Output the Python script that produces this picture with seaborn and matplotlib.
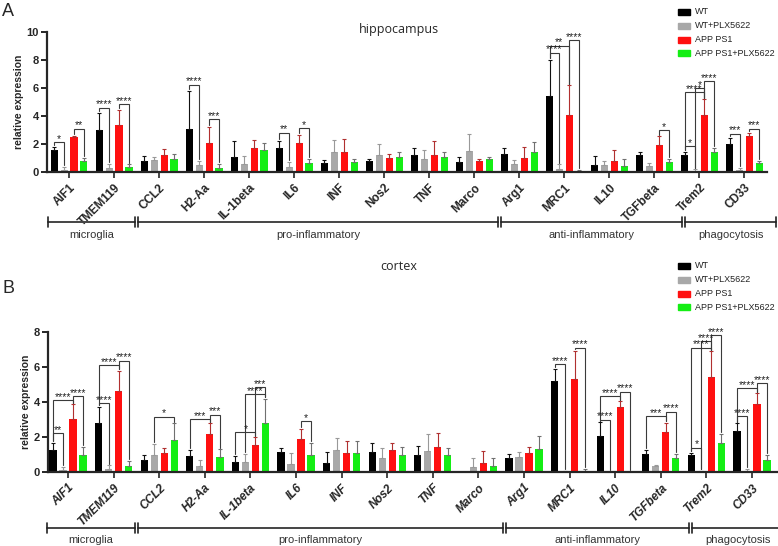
import numpy as np
import pandas as pd
import matplotlib
matplotlib.use('Agg')
import matplotlib.pyplot as plt
import matplotlib.transforms as mtransforms
from matplotlib.patches import Rectangle
import seaborn as sns

# genes and treatment groups
genes = ['AIF1', 'TMEM119', 'CCL2', 'H2-Aa', 'IL-1beta', 'IL6', 'INF', 'Nos2',
         'TNF', 'Marco', 'Arg1', 'MRC1', 'IL10', 'TGFbeta', 'Trem2', 'CD33']
groups = ['WT', 'WT+PLX5622', 'APP PS1', 'APP PS1+PLX5622']
colors = ['#000000', '#a8a8a8', '#ff1010', '#14ee14']
err_colors = ['#111111', '#999999', '#b03030', '#707070']

# hippocampus: means and upper SD
hip_wt = [1.55, 3.0, 0.8, 3.1, 1.1, 1.75, 0.65, 0.8, 1.25, 0.7, 1.3, 5.45, 0.5, 1.25, 1.2, 2.0]
hip_wt_sd = [0.25, 1.25, 0.35, 2.7, 1.1, 0.5, 0.2, 0.15, 0.5, 0.4, 0.45, 2.6, 0.65, 0.2, 0.25, 0.45]
hip_plx = [0.15, 0.3, 0.85, 0.5, 0.55, 0.35, 1.45, 1.2, 0.95, 1.5, 0.6, 0.25, 0.5, 0.4, 0.1, 0.15]
hip_plx_sd = [0.2, 0.3, 0.2, 0.3, 0.6, 0.4, 0.85, 0.8, 0.6, 1.25, 0.25, 0.3, 0.3, 0.25, 0.1, 0.15]
hip_app = [2.5, 3.35, 1.2, 2.1, 1.7, 2.05, 1.4, 1.0, 1.2, 0.8, 1.0, 4.05, 0.8, 1.95, 4.05, 2.55]
hip_app_sd = [0.1, 1.1, 0.45, 1.15, 0.6, 0.6, 0.95, 0.3, 1.0, 0.15, 0.8, 2.15, 0.8, 0.6, 1.15, 0.25]
hip_apx = [0.8, 0.35, 0.95, 0.3, 1.6, 0.65, 0.7, 1.1, 1.1, 0.95, 1.4, 0.1, 0.4, 0.75, 1.4, 0.65]
hip_apx_sd = [0.2, 0.2, 0.35, 0.3, 0.45, 0.3, 0.25, 0.35, 0.3, 0.15, 0.75, 0.05, 0.55, 0.2, 0.35, 0.15]

# cortex: means and upper SD
ctx_wt = [1.3, 2.8, 0.7, 0.95, 0.6, 1.15, 0.55, 1.15, 0.97, 0.0, 0.82, 5.2, 2.1, 1.05, 0.97, 2.35]
ctx_wt_sd = [0.4, 0.95, 0.3, 0.35, 0.35, 0.25, 0.6, 0.5, 0.55, 0.0, 0.25, 0.7, 0.75, 0.25, 0.15, 0.45]
ctx_plx = [0.15, 0.2, 0.97, 0.38, 0.6, 0.5, 1.25, 0.82, 1.2, 0.3, 0.87, 0.05, 0.05, 0.35, 0.05, 0.1]
ctx_plx_sd = [0.15, 0.2, 0.65, 0.3, 0.45, 0.6, 0.7, 0.55, 1.0, 0.5, 0.3, 0.05, 0.0, 0.05, 0.05, 0.1]
ctx_app = [3.03, 4.65, 1.1, 2.2, 1.55, 1.88, 1.12, 1.3, 1.45, 0.55, 1.12, 5.33, 3.75, 2.32, 5.47, 3.92]
ctx_app_sd = [0.85, 1.15, 0.3, 0.6, 0.45, 0.6, 0.65, 0.4, 0.8, 0.65, 0.35, 1.6, 0.3, 0.5, 1.45, 0.6]
ctx_apx = [1.0, 0.35, 1.85, 0.87, 2.83, 0.97, 1.12, 0.97, 0.97, 0.36, 1.35, 0.1, 0.02, 0.82, 1.65, 0.7]
ctx_apx_sd = [0.45, 0.3, 0.95, 0.45, 1.35, 0.7, 0.65, 0.45, 0.4, 0.45, 0.75, 0.1, 0.0, 0.25, 0.55, 0.3]

# significance brackets: (gene index, group a, group b, height, label)
hip_sig = [
    (0, 0, 1, 2.15, '*'), (0, 2, 3, 3.1, '**'),
    (1, 0, 1, 4.6, '****'), (1, 2, 3, 4.85, '****'),
    (3, 0, 1, 6.25, '****'), (3, 2, 3, 3.8, '***'),
    (5, 0, 1, 2.8, '**'), (5, 2, 3, 3.15, '*'),
    (11, 0, 1, 8.55, '****'), (11, 0, 2, 9.05, '**'), (11, 2, 3, 9.45, '****'),
    (13, 2, 3, 3.0, '*'),
    (14, 0, 1, 1.85, '*'), (14, 0, 2, 5.7, '****'), (14, 1, 2, 6.0, '*'), (14, 2, 3, 6.5, '****'),
    (15, 0, 1, 2.75, '***'), (15, 2, 3, 3.1, '***'),
]
ctx_sig = [
    (0, 0, 1, 2.25, '**'), (0, 0, 2, 4.13, '****'), (0, 2, 3, 4.36, '****'),
    (1, 0, 1, 3.94, '****'), (1, 0, 2, 6.13, '****'), (1, 2, 3, 6.38, '****'),
    (2, 1, 3, 3.18, '*'),
    (3, 0, 2, 3.05, '***'), (3, 2, 3, 3.3, '***'),
    (4, 0, 2, 2.3, '*'), (4, 1, 3, 4.45, '****'), (4, 2, 3, 4.85, '***'),
    (5, 2, 3, 2.93, '*'),
    (11, 0, 1, 6.19, '****'), (11, 2, 3, 7.13, '****'),
    (12, 0, 1, 3.0, '****'), (12, 0, 2, 4.36, '****'), (12, 2, 3, 4.6, '****'),
    (13, 0, 2, 3.22, '***'), (13, 2, 3, 3.46, '****'),
    (14, 0, 1, 1.41, '*'), (14, 0, 2, 7.13, '****'), (14, 1, 2, 7.5, '****'), (14, 2, 3, 7.85, '****'),
    (15, 0, 1, 3.22, '****'), (15, 0, 2, 4.8, '****'), (15, 2, 3, 5.08, '****'),
]

# gene categories (x spans in category units)
cat_names = ['microglia', 'pro-inflammatory', 'anti-inflammatory', 'phagocytosis']
cat_starts = [-0.47, 1.53, 9.6, 13.68]
cat_ends = [1.46, 9.53, 13.61, 15.7]

sns.set_style('ticks')
plt.rcParams['font.family'] = ['Liberation Sans', 'DejaVu Sans']

fig = plt.figure(figsize=(7.78, 5.46), dpi=100)
W, H = 778.0, 546.0


def fx(px):
    return px / W


def fy(py):
    return 1 - py / H


def make_df(means):
    rows = []
    for g, vals in zip(groups, means):
        for gene, v in zip(genes, vals):
            rows.append({'gene': gene, 'group': g, 'value': v})
    return pd.DataFrame(rows)


def draw_panel(ax, means, sds, sigs, ymax, italic):
    df = make_df(means)
    sns.barplot(data=df, x='gene', y='value', hue='group', order=genes,
                hue_order=groups, palette=colors, saturation=1, width=0.88,
                gap=0.28, errorbar=None, legend=False, ax=ax, linewidth=0)
    # upper error bars
    bar_conts = list(ax.containers)
    for h, cont in enumerate(bar_conts):
        for i, bar in enumerate(cont.patches):
            x = bar.get_x() + bar.get_width() / 2
            y = bar.get_height()
            if sds[h][i] > 0:
                ax.errorbar(x, y, yerr=[[0], [sds[h][i]]], fmt='none',
                            ecolor=err_colors[h], elinewidth=0.8, capsize=1.6,
                            capthick=0.8)
    offs = [-0.33, -0.11, 0.11, 0.33]
    gap = ymax * 0.012
    for gi, a, b, hgt, lab in sigs:
        xa, xb = gi + offs[a], gi + offs[b]
        ya = min(means[a][gi] + sds[a][gi] + gap, hgt)
        yb = min(means[b][gi] + sds[b][gi] + gap, hgt)
        ax.plot([xa, xa, xb, xb], [ya, hgt, hgt, yb], color='#3a3a3a',
                lw=0.8, clip_on=False, solid_joinstyle='miter')
        ax.text((xa + xb) / 2, hgt - ymax * 0.012, lab, ha='center', va='bottom',
                fontsize=7.5, color='#222222', clip_on=False)
    ax.set_ylim(0, ymax)
    ax.set_yticks(np.arange(0, ymax + 0.1, 2))
    ax.set_xlim(-0.49, 15.5)
    sns.despine(ax=ax)
    for s in ['left', 'bottom']:
        ax.spines[s].set_linewidth(1.6)
    ax.tick_params(axis='y', length=4, width=1.4, labelsize=8, pad=2)
    ax.tick_params(axis='x', length=4, width=1.2, pad=3)
    for t in ax.get_yticklabels():
        t.set_fontweight('bold')
    ax.set_xticks(range(len(genes)))
    ax.set_xticklabels(genes, rotation=45, ha='right', va='top',
                       rotation_mode='anchor', fontsize=8.5, fontweight='bold',
                       fontstyle='italic' if italic else 'normal')
    ax.set_xlabel('')
    ax.set_ylabel('relative expression', fontsize=7.5, fontweight='bold', labelpad=2)


def draw_categories(ax, line_y, text_y):
    tr = mtransforms.blended_transform_factory(ax.transData, fig.transFigure)
    tick = 5 / H
    for name, x0, x1 in zip(cat_names, cat_starts, cat_ends):
        ax.plot([x0, x1], [line_y, line_y], color='#444444', lw=1.4,
                transform=tr, clip_on=False)
        for xe in (x0, x1):
            ax.plot([xe, xe], [line_y - tick, line_y + tick], color='#222222',
                    lw=1.2, transform=tr, clip_on=False)
        ax.text((x0 + x1) / 2, text_y, name, transform=tr, ha='center',
                va='center', fontsize=8,
                family=['Liberation Sans Narrow', 'Liberation Sans', 'DejaVu Sans'],
                color='#333333')


def draw_legend(top_py):
    for k, (g, c) in enumerate(zip(groups, colors)):
        y = top_py + k * 13.8
        fig.patches.append(Rectangle((fx(678), fy(y + 3)), 12 / W, 6 / H,
                                     transform=fig.transFigure, color=c))
        fig.text(fx(695), fy(y), g, fontsize=6.5, va='center', ha='left',
                 color='#222222')


# hippocampus
ax1 = fig.add_axes([fx(47), fy(172), fx(767 - 47), (172 - 32.3) / H])
draw_panel(ax1, [hip_wt, hip_plx, hip_app, hip_apx],
           [hip_wt_sd, hip_plx_sd, hip_app_sd, hip_apx_sd], hip_sig, 10, False)
draw_categories(ax1, fy(222), fy(235))

# cortex
ax2 = fig.add_axes([fx(48), fy(472.3), fx(778 - 48), (472.3 - 332.3) / H])
draw_panel(ax2, [ctx_wt, ctx_plx, ctx_app, ctx_apx],
           [ctx_wt_sd, ctx_plx_sd, ctx_app_sd, ctx_apx_sd], ctx_sig, 8, True)
ax2.set_xlim(-0.44, 15.57)
draw_categories(ax2, fy(528), fy(540))

fig.text(fx(399), fy(30), 'hippocampus', ha='center', va='center', fontsize=9,
         family=['Open Sans', 'DejaVu Sans'])
fig.text(fx(399), fy(266), 'cortex', ha='center', va='center', fontsize=9,
         family=['Open Sans', 'DejaVu Sans'])
fig.text(fx(2), fy(3), 'A', ha='left', va='top', fontsize=13)
fig.text(fx(2), fy(280), 'B', ha='left', va='top', fontsize=13)

draw_legend(12)
draw_legend(266)

fig.savefig('out.png', dpi=100)
